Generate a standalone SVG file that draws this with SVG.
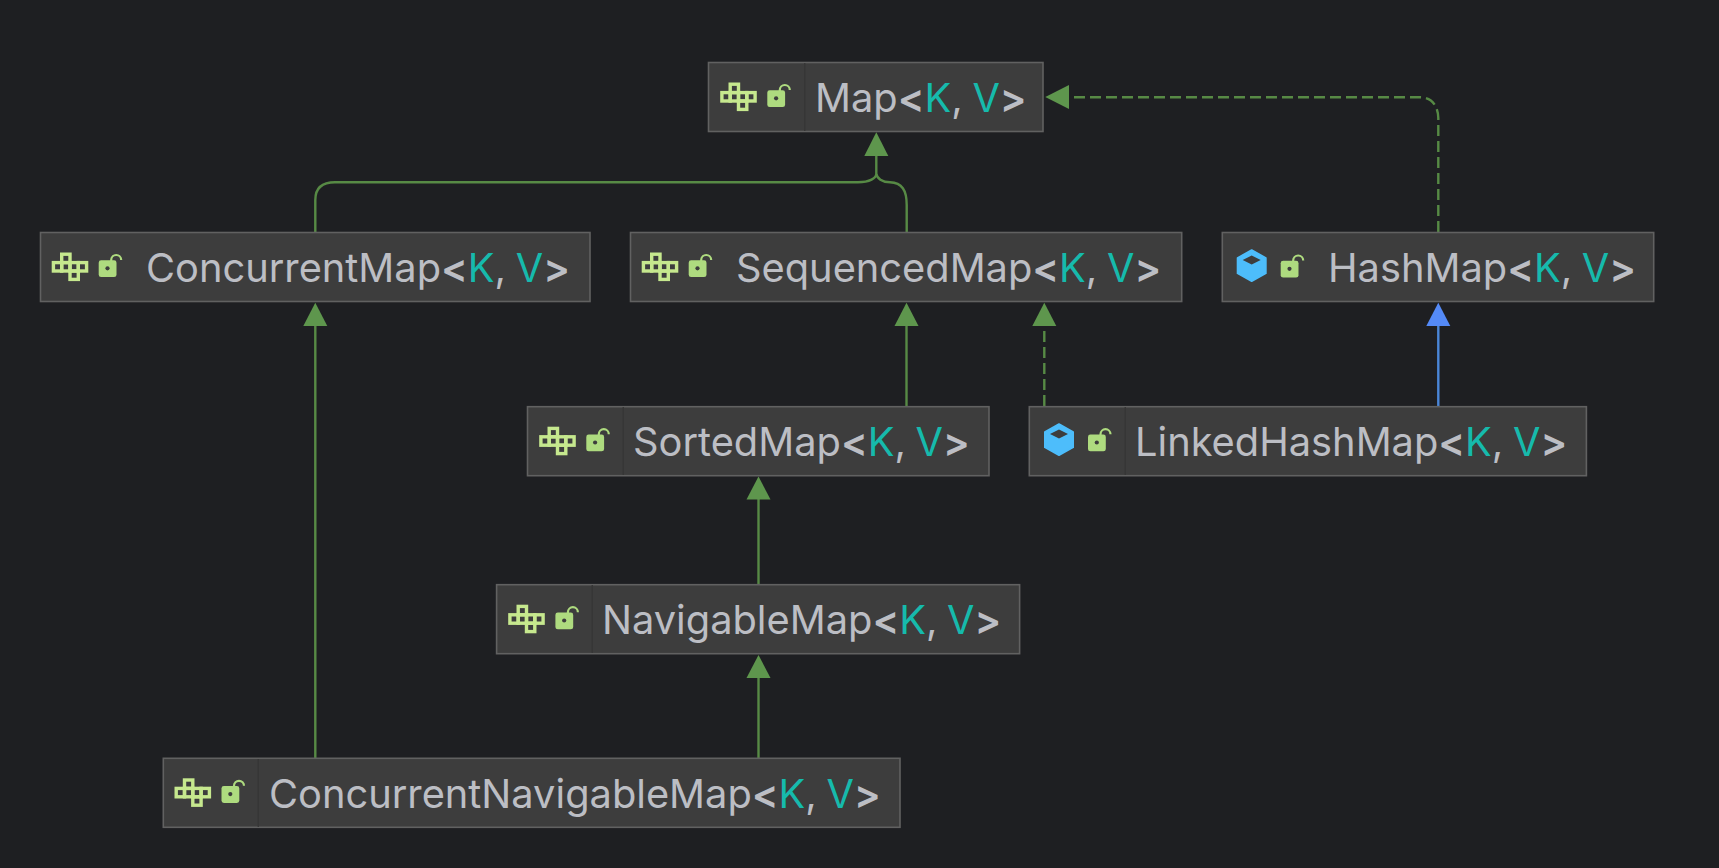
<svg xmlns="http://www.w3.org/2000/svg" width="1719" height="868" viewBox="0 0 1719 868">
<style>
.box{fill:#3d3d3d;stroke:#616161;stroke-width:1.6}
.div{stroke:#363636;stroke-width:1.4}
text{font-family:Inter,"Noto Sans",sans-serif;font-size:39.8px;fill:#bcbec4;word-spacing:-1.5px}
.k{fill:#16baac}
.b{font-weight:600}
.c{fill:none;stroke:#578a45;stroke-width:2.4}
.d{stroke-dasharray:11 5}
.ah{fill:#5e964d}
.bl{fill:#548af7}
</style>
<defs>
<g id="iface" fill="none" stroke="#c6e88e" stroke-width="3.4">
<rect x="10.2" y="1.9" width="8.3" height="8.4"/><rect x="1.9" y="10.3" width="8.3" height="8.4"/><rect x="10.2" y="10.3" width="8.3" height="8.4"/><rect x="18.5" y="10.3" width="8.3" height="8.4"/><rect x="26.8" y="10.3" width="8.3" height="8.4"/><rect x="18.5" y="18.7" width="8.3" height="8.4"/>
</g>
<g id="lock">
<path d="M12.5 2V0.5a5 5 0 0 1 10 0" fill="none" stroke="#aedb7f" stroke-width="2.2"/>
<rect x="0" y="0.8" width="17.8" height="16.8" rx="2.4" fill="#aedb7f"/>
<circle cx="8.8" cy="8.8" r="2.1" fill="#3d3d3d"/>
</g>
<g id="cube">
<path d="M15 1L29.2 8.9V24.4L15 32.3L0.8 24.4V8.9Z" fill="#4dbdfb" stroke="#4dbdfb" stroke-width="1.6" stroke-linejoin="round"/>
<path d="M15 6.5L24 11L15 15.5L6 11Z" fill="#3d3d3d"/>
</g>
</defs>
<rect width="1719" height="868" fill="#1e1f22"/>
<g id="connectors">
<path class="c" d="M876.3 155V174C876 178 870 182.3 858 182.3H335C322 182.3 315.3 188 315.3 200V232"/>
<path class="c" d="M876.3 174C877 178 882 182.3 890 182.3C902 182.8 906.7 190 906.7 205V232"/>
<path class="c d" d="M1438.3 232V118C1438 106 1432 97.3 1420 97.3H1072"/>
<path class="c" d="M315.3 325V758"/>
<path class="c" d="M906.5 325V406"/>
<path class="c d" d="M1044.3 406V329"/>
<path class="c" d="M1438.3 325V406" style="stroke:#4a86d8"/>
<path class="c" d="M758.5 499V584"/>
<path class="c" d="M758.5 677V758"/>
<path class="ah" d="M876.3 132.3L888.3 156H864.3Z"/>
<path class="ah" d="M1045.3 97L1069 85V109Z"/>
<path class="ah" d="M315.3 302.7L327.3 326H303.3Z"/>
<path class="ah" d="M906.5 302.7L918.5 326H894.5Z"/>
<path class="ah" d="M1044.3 302.7L1056.3 326H1032.3Z"/>
<path class="bl" d="M1438.3 302.7L1450.3 326H1426.3Z"/>
<path class="ah" d="M758.5 476.5L770.5 499.5H746.5Z"/>
<path class="ah" d="M758.5 655L770.5 678H746.5Z"/>
</g>
<g id="map"><rect class="box" x="708.5" y="62.5" width="334.5" height="69"/><path class="div" d="M804.7 63V131"/><use href="#iface" x="720" y="82.3"/><use href="#lock" x="767.3" y="89.5"/><text x="815" y="111.7">Map<tspan class="b">&lt;</tspan><tspan class="k">K</tspan>, <tspan class="k">V</tspan><tspan class="b">&gt;</tspan></text></g>
<g id="concurrentmap"><rect class="box" x="40.5" y="232.5" width="549.5" height="69"/><use href="#iface" x="51.5" y="252.3"/><use href="#lock" x="98.7" y="259.5"/><text x="146" y="281.7">ConcurrentMap<tspan class="b">&lt;</tspan><tspan class="k">K</tspan>, <tspan class="k">V</tspan><tspan class="b">&gt;</tspan></text></g>
<g id="sequencedmap"><rect class="box" x="630.5" y="232.5" width="551.2" height="69"/><use href="#iface" x="641.5" y="252.3"/><use href="#lock" x="688.7" y="259.5"/><text x="736" y="281.7">SequencedMap<tspan class="b">&lt;</tspan><tspan class="k">K</tspan>, <tspan class="k">V</tspan><tspan class="b">&gt;</tspan></text></g>
<g id="hashmap"><rect class="box" x="1222.3" y="232.5" width="431.4" height="69"/><use href="#cube" x="1236.7" y="249"/><use href="#lock" x="1280.7" y="260"/><text x="1328" y="281.7">HashMap<tspan class="b">&lt;</tspan><tspan class="k">K</tspan>, <tspan class="k">V</tspan><tspan class="b">&gt;</tspan></text></g>
<g id="sortedmap"><rect class="box" x="527.5" y="406.7" width="461.5" height="69"/><path class="div" d="M623.3 407V475"/><use href="#iface" x="539" y="426.5"/><use href="#lock" x="586.3" y="433.7"/><text x="633" y="455.9">SortedMap<tspan class="b">&lt;</tspan><tspan class="k">K</tspan>, <tspan class="k">V</tspan><tspan class="b">&gt;</tspan></text></g>
<g id="linkedhashmap"><rect class="box" x="1029.3" y="406.7" width="557.1" height="69"/><path class="div" d="M1125.3 407V475"/><use href="#cube" x="1044" y="423"/><use href="#lock" x="1088" y="433.7"/><text x="1135" y="455.9">LinkedHashMap<tspan class="b">&lt;</tspan><tspan class="k">K</tspan>, <tspan class="k">V</tspan><tspan class="b">&gt;</tspan></text></g>
<g id="navigablemap"><rect class="box" x="496.6" y="584.7" width="523" height="69"/><path class="div" d="M592.3 585V653"/><use href="#iface" x="508" y="604.5"/><use href="#lock" x="555.4" y="611.7"/><text x="602" y="633.9">NavigableMap<tspan class="b">&lt;</tspan><tspan class="k">K</tspan>, <tspan class="k">V</tspan><tspan class="b">&gt;</tspan></text></g>
<g id="concurrentnavigablemap"><rect class="box" x="163.3" y="758.3" width="736.7" height="69"/><path class="div" d="M258.3 759V827"/><use href="#iface" x="174.3" y="778.1"/><use href="#lock" x="221.5" y="785.3"/><text x="269" y="807.5">ConcurrentNavigableMap<tspan class="b">&lt;</tspan><tspan class="k">K</tspan>, <tspan class="k">V</tspan><tspan class="b">&gt;</tspan></text></g>
</svg>
